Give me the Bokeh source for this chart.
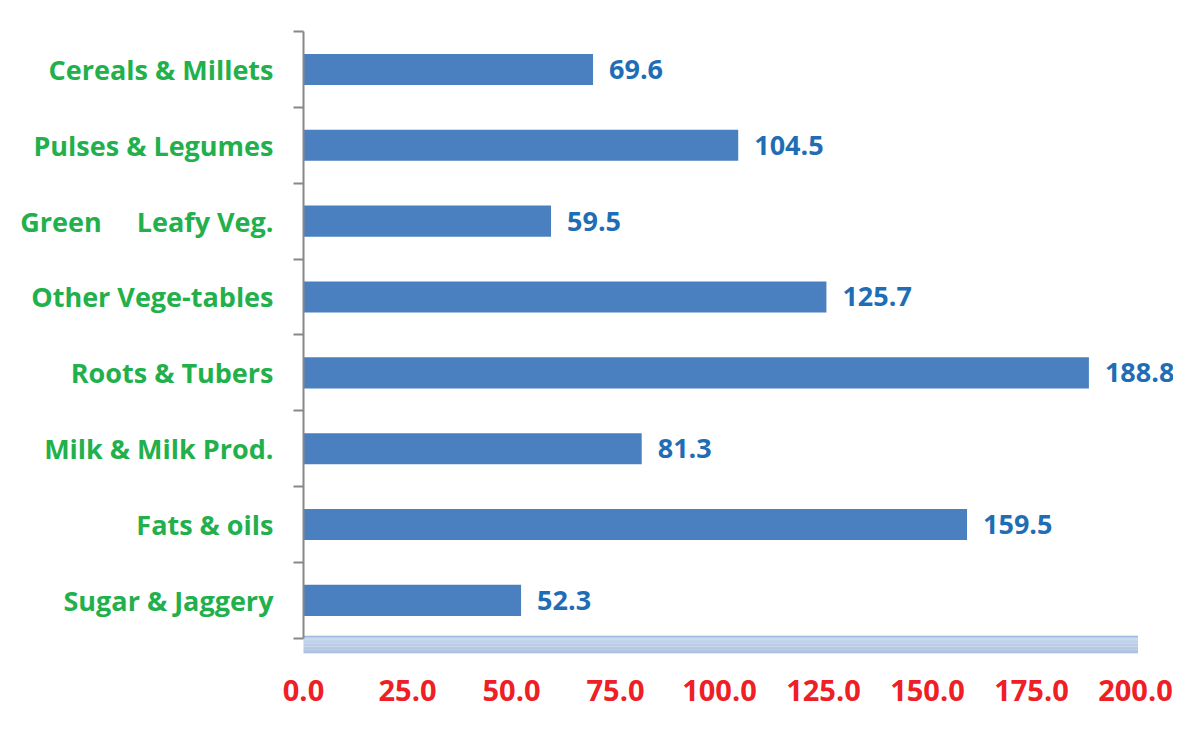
from bokeh.plotting import figure
from bokeh.models import FixedTicker, ColumnDataSource, Range1d
from bokeh.embed import file_html
from bokeh.resources import INLINE
from bokeh.core.properties import value

categories = ["Cereals & Millets", "Pulses & Legumes", "Green\u00a0\u00a0\u00a0\u00a0\u00a0Leafy Veg.",
              "Other Vege-tables", "Roots & Tubers", "Milk & Milk Prod.",
              "Fats & oils", "Sugar & Jaggery"]
values = [69.6, 104.5, 59.5, 125.7, 188.8, 81.3, 159.5, 52.3]
x_ticks = [0, 25, 50, 75, 100, 125, 150, 175, 200]
x_tick_labels = ["0.0", "25.0", "50.0", "75.0", "100.0", "125.0", "150.0", "175.0", "200.0"]

n = len(categories)
ypos = [n - i - 0.5 for i in range(n)]
labels = ["%.1f" % v for v in values]
src = ColumnDataSource(dict(y=ypos, v=values, lab=labels))

FONT = "Open Sans"
W = 1173
LEFT = 303
FRAME_W = W - LEFT     # frame extends past 200 so that value labels are not clipped
X_END = FRAME_W / 4.16

p = figure(width=W, height=735, output_backend="svg", toolbar_location=None,
           x_range=Range1d(0, X_END), y_range=Range1d(-0.2, n),
           min_border_left=LEFT, min_border_top=31, min_border_bottom=82, min_border_right=0)
p.background_fill_color = "white"
p.border_fill_color = "white"
p.outline_line_color = None
p.grid.visible = False

# floor (3D base) as a smooth vertical gradient
steps = 12
c0 = (0xc9, 0xd9, 0xef)
c1 = (0xae, 0xc2, 0xe0)
top = 0.025
h = 0.225 / steps
for k in range(steps):
    t = k / (steps - 1)
    col = "#%02x%02x%02x" % tuple(int(round(a + (b - a) * t)) for a, b in zip(c0, c1))
    p.quad(left=-0.3, right=200.6, top=top - k * h, bottom=top - (k + 1) * h - 0.003,
           fill_color=col, line_color=None)
p.segment(x0=-0.3, x1=200.6, y0=top, y1=top, line_color="#9db6de", line_width=1.5)

p.hbar(y="y", right="v", left=0, height=0.41, source=src,
       fill_color="#4a7fc0", line_color=None)
p.text(x="v", y="y", text="lab", source=src, x_offset=16,
       text_align="left", text_baseline="middle",
       text_font=value(FONT), text_font_style="bold", text_font_size="27px",
       text_color="#1f6db5")

# y axis
ya = p.yaxis[0]
ya.ticker = FixedTicker(ticks=ypos, minor_ticks=list(range(0, n + 1)))
ya.major_label_overrides = {y: c for y, c in zip(ypos, categories)}
ya.bounds = (0, n)
ya.major_tick_out = 0
ya.major_tick_in = 0
ya.minor_tick_out = 10
ya.minor_tick_in = 0
ya.minor_tick_line_color = "#888888"
ya.minor_tick_line_width = 2
ya.axis_line_color = "#888888"
ya.axis_line_width = 2
ya.major_label_standoff = 20
ya.major_label_text_font = FONT
ya.major_label_text_font_style = "bold"
ya.major_label_text_font_size = "27px"
ya.major_label_text_color = "#21b04b"

# x axis
xa = p.xaxis[0]
xa.ticker = FixedTicker(ticks=x_ticks, minor_ticks=[])
xa.major_label_overrides = {t: l for t, l in zip(x_ticks, x_tick_labels)}
xa.axis_line_color = None
xa.major_tick_line_color = None
xa.major_tick_out = 0
xa.major_tick_in = 0
xa.major_label_standoff = 26
xa.major_label_text_font = FONT
xa.major_label_text_font_style = "bold"
xa.major_label_text_font_size = "29px"
xa.major_label_text_color = "#ee2025"

open("out.html", "w").write(file_html(p, INLINE))
